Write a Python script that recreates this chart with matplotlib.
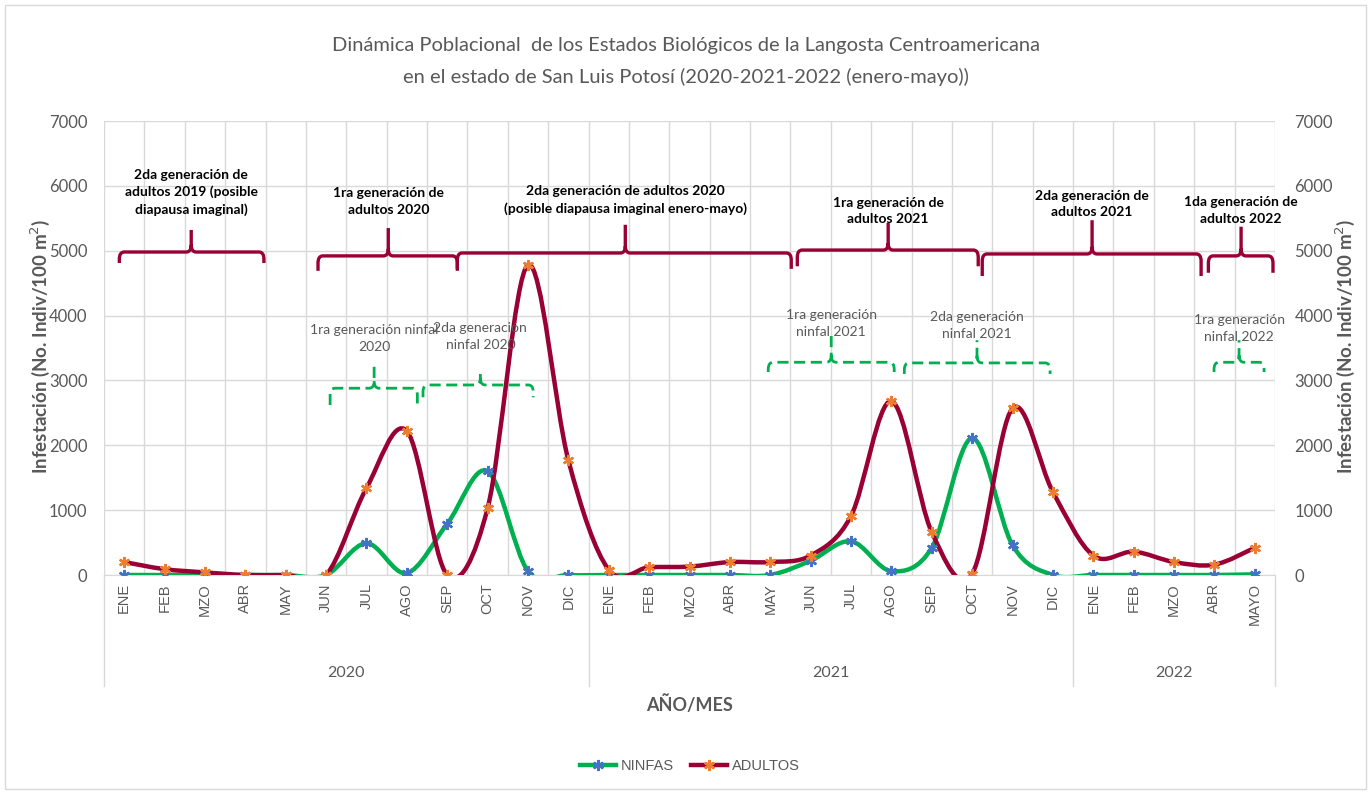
import numpy as np
import matplotlib
matplotlib.use("Agg")
import matplotlib.pyplot as plt
from matplotlib.path import Path
from matplotlib.patches import PathPatch, Rectangle
from matplotlib.lines import Line2D
import matplotlib.transforms as mtransforms

plt.rcParams["font.family"] = ["Lato", "DejaVu Sans"]

GRAY = "#595959"
GRID = "#d9d9d9"
GREEN = "#00b050"
MAROON = "#990033"
BLUE = "#4472c4"
ORANGE = "#ed7d31"
ARIAL = ["Liberation Sans", "DejaVu Sans"]

# data: 2020 ene-dic, 2021 ene-dic, 2022 ene-mayo
months = ["ENE", "FEB", "MZO", "ABR", "MAY", "JUN", "JUL", "AGO", "SEP", "OCT", "NOV", "DIC",
          "ENE", "FEB", "MZO", "ABR", "MAY", "JUN", "JUL", "AGO", "SEP", "OCT", "NOV", "DIC",
          "ENE", "FEB", "MZO", "ABR", "MAYO"]
years = ["2020", "2021", "2022"]
year_len = [12, 12, 5]

ninfas = [0, 0, 0, 0, 0, 0, 490, 30, 790, 1600, 60, 0,
          0, 0, 0, 0, 0, 220, 520, 60, 420, 2110, 460, 0,
          0, 0, 0, 0, 10]
adultos = [200, 90, 40, 0, 0, 0, 1340, 2220, 0, 1030, 4780, 1770,
           80, 120, 130, 200, 200, 300, 910, 2680, 660, 20, 2570, 1280,
           300, 360, 200, 160, 420]

# annotation braces: (x0, x1, xc, y_bar, y_end, y_tip, text, text_y)
adult_braces = [
    (-0.12, 3.46, 1.66, 4980, 4810, 5320, "2da generación de\nadultos 2019 (posible\ndiapausa imaginal)", 5900),
    (4.80, 8.25, 6.54, 4920, 4690, 5350, "1ra generación de\nadultos 2020", 5760),
    (8.25, 16.52, 12.41, 4965, 4720, 5400, "2da generación de adultos 2020\n(posible diapausa imaginal enero-mayo)", 5780),
    (16.67, 21.15, 18.92, 5010, 4760, 5430, "1ra generación de\nadultos 2021", 5610),
    (21.25, 26.67, 23.97, 4950, 4610, 5470, "2da generación de\nadultos 2021", 5720),
    (26.85, 28.45, 27.66, 4920, 4660, 5370, "1da generación de\nadultos 2022", 5620),
]
nymph_braces = [
    (5.10, 7.26, 6.19, 2880, 2620, 3280, "1ra generación ninfal\n2020", 3650),
    (7.40, 10.13, 8.82, 2930, 2740, 3100, "2da generación\nninfal 2020", 3680),
    (15.95, 19.07, 17.51, 3280, 3130, 3700, "1ra generación\nninfal 2021", 3880),
    (19.32, 22.93, 21.12, 3270, 3100, 3620, "2da generación\nninfal 2021", 3850),
    (26.99, 28.23, 27.61, 3280, 3130, 3620, "1ra generación\nninfal 2022", 3800),
]


def smooth_path(xs, ys):
    # Excel style smoothed line (Catmull-Rom as cubic Bezier)
    pts = np.column_stack([xs, ys]).astype(float)
    n = len(pts)
    verts = [pts[0]]
    codes = [Path.MOVETO]
    for i in range(n - 1):
        p0 = pts[max(i - 1, 0)]
        p1 = pts[i]
        p2 = pts[i + 1]
        p3 = pts[min(i + 2, n - 1)]
        c1 = p1 + (p2 - p0) / 6.0
        c2 = p2 - (p3 - p1) / 6.0
        verts += [c1, c2, p2]
        codes += [Path.CURVE4] * 3
    return Path(verts, codes)


def brace(ax, x0, x1, xc, yb, ye, yt, color, ls, lw):
    cx, cy = 0.12, 110
    s = 1 if ye < yb else -1
    verts = [(x0, ye), (x0, yb - s * cy), (x0, yb), (x0 + cx, yb),
             (xc - cx, yb), (xc, yb), (xc, yb + s * cy), (xc, yt),
             (xc, yb + s * cy), (xc, yb), (xc + cx, yb),
             (x1 - cx, yb), (x1, yb), (x1, yb - s * cy), (x1, ye)]
    codes = [Path.MOVETO, Path.LINETO, Path.CURVE3, Path.CURVE3,
             Path.LINETO, Path.CURVE3, Path.CURVE3, Path.LINETO,
             Path.MOVETO, Path.CURVE3, Path.CURVE3,
             Path.LINETO, Path.CURVE3, Path.CURVE3, Path.LINETO]
    ax.add_patch(PathPatch(Path(verts, codes), fill=False, edgecolor=color,
                           lw=lw, ls=ls, clip_on=False, zorder=4,
                           capstyle="butt", joinstyle="round"))


fig = plt.figure(figsize=(13.71, 7.94), dpi=100)
ax = fig.add_axes([104 / 1371, 1 - 575 / 794, 1171 / 1371, 454 / 794])

x = np.arange(len(months))
ax.set_xlim(-0.5, len(months) - 0.5)
ax.set_ylim(0, 7000)

ax.set_yticks(range(0, 7001, 1000))
ax.tick_params(axis="y", length=0, labelsize=12, labelcolor=GRAY, pad=12)
ax.set_xticks(x)
ax.set_xticklabels(months, rotation=90, family=ARIAL, fontsize=10.5, color=GRAY)
ax.tick_params(axis="x", length=0, pad=6)
ax.set_xticks(np.arange(-0.5, len(months), 1), minor=True)
ax.tick_params(axis="x", which="minor", length=0)
ax.grid(axis="y", color=GRID, lw=1)
ax.grid(axis="x", which="minor", color=GRID, lw=1)
ax.set_axisbelow(True)
for sp in ax.spines.values():
    sp.set_visible(False)
ax.spines["bottom"].set_visible(True)
ax.spines["bottom"].set_color(GRID)

# series
for vals, lc, mc in [(ninfas, GREEN, BLUE), (adultos, MAROON, ORANGE)]:
    ax.add_patch(PathPatch(smooth_path(x, vals), fill=False, edgecolor=lc, lw=3.2,
                           zorder=3, capstyle="round"))
    ax.plot(x, vals, ls="none", marker=(6, 2, 0), ms=8, mec=mc, mew=1.7, zorder=3.5)

# right axis
ax2 = ax.twinx()
ax2.set_ylim(0, 7000)
ax2.set_yticks(range(0, 7001, 1000))
ax2.tick_params(axis="y", length=0, labelsize=12, labelcolor=GRAY, pad=14)
for sp in ax2.spines.values():
    sp.set_visible(False)

# multi-level category axis
trans = mtransforms.blended_transform_factory(ax.transData, ax.transAxes)
bounds = np.cumsum([0] + year_len) - 0.5
for b in bounds:
    ax.add_line(Line2D([b, b], [0, -0.245], transform=trans, color=GRID, lw=1, clip_on=False))
for i, yr in enumerate(years):
    ax.text((bounds[i] + bounds[i + 1]) / 2, -0.216, yr, transform=trans, ha="center",
            va="center", fontsize=11.5, color=GRAY)

# braces and labels
for x0, x1, xc, yb, ye, yt, txt, ty in adult_braces:
    brace(ax, x0, x1, xc, yb, ye, yt, MAROON, "-", 2.4)
    ax.text(xc, ty, txt, ha="center", va="center", fontsize=10, fontweight="bold",
            color="black", linespacing=1.45, zorder=5)
for x0, x1, xc, yb, ye, yt, txt, ty in nymph_braces:
    brace(ax, x0, x1, xc, yb, ye, yt, GREEN, (0, (4, 2)), 2.0)
    ax.text(xc, ty, txt, ha="center", va="center", fontsize=10, color=GRAY,
            linespacing=1.45, zorder=5)

# titles and labels
fig.text(0.5, 1 - 45 / 794, "Dinámica Poblacional  de los Estados Biológicos de la Langosta Centroamericana",
         ha="center", va="center", fontsize=14.5, color=GRAY)
fig.text(0.5, 1 - 77 / 794, "en el estado de San Luis Potosí (2020-2021-2022 (enero-mayo))",
         ha="center", va="center", fontsize=14.5, color=GRAY)
ylab = "Infestación (No. Indiv/100 m$^{2}$)"
fig.text(40 / 1371, 1 - 346 / 794, ylab, rotation=90, ha="center", va="center",
         fontsize=13.5, fontweight="bold", color=GRAY)
fig.text(1345 / 1371, 1 - 346 / 794, ylab, rotation=90, ha="center", va="center",
         fontsize=13.5, fontweight="bold", color=GRAY)
fig.text(690 / 1371, 1 - 705 / 794, "AÑO/MES", ha="center", va="center",
         fontsize=13, fontweight="bold", color=GRAY)

# legend
handles = [Line2D([], [], color=GREEN, lw=3.2, marker=(6, 2, 0), ms=8, mec=BLUE, mew=1.7),
           Line2D([], [], color=MAROON, lw=3.2, marker=(6, 2, 0), ms=8, mec=ORANGE, mew=1.7)]
fig.legend(handles, ["NINFAS", "ADULTOS"], loc="center", bbox_to_anchor=(0.503, 1 - 766 / 794),
           ncol=2, frameon=False, handlelength=2.5, columnspacing=1.2, handletextpad=0.3,
           prop={"family": ARIAL, "size": 10.5}, labelcolor=GRAY)

fig.add_artist(Rectangle((5 / 1371, 5 / 794), 1 - 10 / 1371, 1 - 10 / 794, transform=fig.transFigure,
                         fill=False, edgecolor=GRID, lw=1))

fig.savefig("out.png", dpi=100)
